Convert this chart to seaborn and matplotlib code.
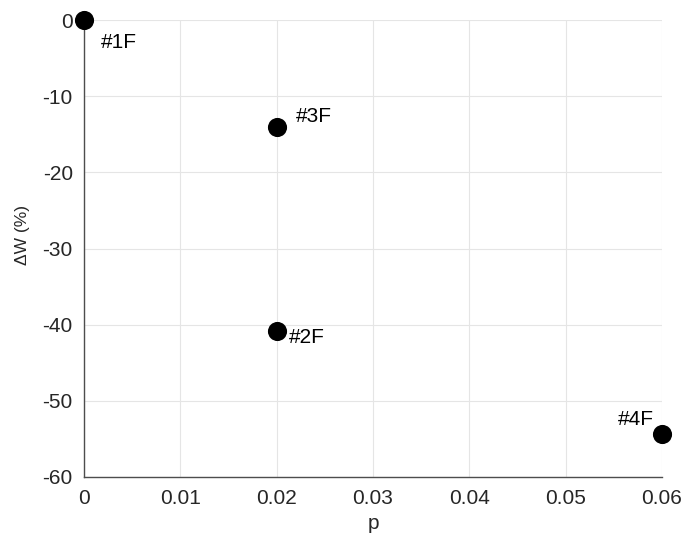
import matplotlib.pyplot as plt
import seaborn as sns
import pandas as pd

# samples: p vs change in W (%)
labels = ['#1F', '#2F', '#3F', '#4F']
p_vals = [0.0, 0.02, 0.02, 0.06]
dw_vals = [0.0, -40.8, -14.0, -54.3]
# label offsets in points (dx, dy) and horizontal alignment
offsets = [(12, -16, 'left'), (9, -5, 'left'), (14, 7, 'left'), (-6, 10, 'right')]

df = pd.DataFrame({'p': p_vals, 'dW': dw_vals, 'label': labels})

sns.set_style('white')
plt.rcParams['font.family'] = ['Liberation Sans', 'DejaVu Sans']

fig = plt.figure(figsize=(6.81, 5.38), dpi=100)
ax = fig.add_axes([0.1233, 0.1134, 0.8487, 0.8494])

ax.grid(True, color='#e5e5e5', linewidth=0.8)
ax.set_axisbelow(True)

sns.scatterplot(data=df, x='p', y='dW', ax=ax, color='black', s=190,
                edgecolor='black', linewidth=0, zorder=5, legend=False)
for c in ax.collections:
    c.set_clip_on(False)

for (x, y, t), (dx, dy, ha) in zip(zip(p_vals, dw_vals, labels), offsets):
    ax.annotate(t, (x, y), xytext=(dx, dy), textcoords='offset points',
                ha=ha, va='center', fontsize=15, color='black')

ax.set_xlim(0, 0.06)
ax.set_ylim(-60, 0)
ax.set_xticks([0, 0.01, 0.02, 0.03, 0.04, 0.05, 0.06])
ax.set_xticklabels(['0', '0.01', '0.02', '0.03', '0.04', '0.05', '0.06'])
ax.set_yticks([-60, -50, -40, -30, -20, -10, 0])
ax.set_yticklabels(['-60', '-50', '-40', '-30', '-20', '-10', '0'])

for s in ['top', 'right']:
    ax.spines[s].set_visible(False)
for s in ['left', 'bottom']:
    ax.spines[s].set_color('#4d4d4d')
    ax.spines[s].set_linewidth(1.0)

ax.tick_params(direction='in', length=5, width=0.8, colors='#4d4d4d',
               labelcolor='#262626', labelsize=15)
ax.tick_params(axis='x', pad=9)
ax.tick_params(axis='y', pad=8)
ax.set_xlabel('p', fontsize=15, color='#262626', labelpad=4)
ax.set_ylabel('ΔW (%)', fontsize=12.5, color='#262626')
ax.yaxis.set_label_coords(-0.094, 0.53)

fig.savefig('out.png', dpi=100)
